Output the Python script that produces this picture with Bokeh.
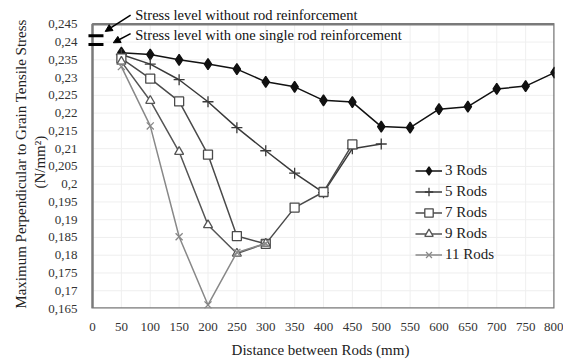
from bokeh.plotting import figure
from bokeh.models import (Range1d, FixedTicker, Legend, Label, Arrow, NormalHead)
from bokeh.embed import file_html
from bokeh.resources import INLINE

# ---- data ----
x3 = [50, 100, 150, 200, 250, 300, 350, 400, 450, 500, 550, 600, 650, 700, 750, 800]
y3 = [0.2370, 0.2365, 0.2350, 0.2338, 0.2324, 0.2288, 0.2274, 0.2236, 0.2231, 0.2162,
      0.2159, 0.2211, 0.2218, 0.2268, 0.2276, 0.2314]
x5 = [50, 100, 150, 200, 250, 300, 350, 400, 450, 500]
y5 = [0.2365, 0.2338, 0.2294, 0.2232, 0.2159, 0.2094, 0.2031, 0.1976, 0.2100, 0.2113]
x7 = [50, 100, 150, 200, 250, 300, 350, 400, 450]
y7 = [0.2354, 0.2297, 0.2233, 0.2083, 0.1854, 0.1832, 0.1934, 0.1978, 0.2112]
x9 = [50, 100, 150, 200, 250, 300]
y9 = [0.2345, 0.2235, 0.2091, 0.1885, 0.1805, 0.1833]
x11 = [50, 100, 150, 200, 250, 300]
y11 = [0.2331, 0.2164, 0.1852, 0.1660, 0.1808, 0.1833]

series_names = ["3 Rods", "5 Rods", "7 Rods", "9 Rods", "11 Rods"]
x_ticks = list(range(0, 801, 50))
y_ticks = [0.165, 0.17, 0.175, 0.18, 0.185, 0.19, 0.195, 0.2, 0.205, 0.21, 0.215,
           0.22, 0.225, 0.23, 0.235, 0.24, 0.245]
y_tick_labels = ["0,165", "0,17", "0,175", "0,18", "0,185", "0,19", "0,195", "0,2", "0,205",
                 "0,21", "0,215", "0,22", "0,225", "0,23", "0,235", "0,24", "0,245"]
ref_levels = [0.2418, 0.2393]
ref_texts = ["Stress level without rod reinforcement",
             "Stress level with one single rod reinforcement"]

# axis box limits
X_MIN, X_MAX = 0, 800
Y_MIN, Y_MAX = 0.165, 0.245

FONT = "Liberation Serif"

# the frame is a little larger than the drawn axis box, so that the
# annotations above / left of the box are not clipped
p = figure(width=563, height=360, output_backend="svg", toolbar_location=None,
           x_range=Range1d(-10.39, X_MAX), y_range=Range1d(Y_MIN, 0.250575),
           min_border_left=86, min_border_right=9, min_border_top=4, min_border_bottom=49)
p.background_fill_color = "white"
p.border_fill_color = "white"
p.outline_line_color = None
p.xgrid.visible = False
p.ygrid.visible = False

p.xaxis.ticker = FixedTicker(ticks=x_ticks)
p.yaxis.ticker = FixedTicker(ticks=y_ticks)
p.yaxis.major_label_overrides = {t: l for t, l in zip(y_ticks, y_tick_labels)}
for ax in (p.xaxis[0], p.yaxis[0]):
    ax.axis_line_color = None
    ax.major_tick_line_color = None
    ax.minor_tick_line_color = None
    ax.major_label_text_font = FONT
    ax.major_label_text_font_size = "13px"
    ax.major_label_text_color = "#333333"
    ax.axis_label_text_font = FONT
    ax.axis_label_text_font_style = "normal"
    ax.axis_label_text_color = "#222222"
    ax.axis_label_text_font_size = "15px"
p.yaxis.major_label_standoff = 3
p.xaxis.major_label_standoff = 8
p.xaxis.axis_label = "Distance between Rods (mm)"
p.xaxis.axis_label_standoff = 8
p.yaxis.axis_label = ("Maximum Perpendicular to Grain Tensile Stress" + "\u00a0" * 4 +
                      "\n(N/mm\u00b2)" + "\u00a0" * 3)
p.yaxis.axis_label_standoff = -3

# faint grid within the axis box
p.segment(x0=x_ticks, y0=[Y_MIN] * len(x_ticks), x1=x_ticks, y1=[Y_MAX] * len(x_ticks),
          line_color="#efefef", line_width=1, level="underlay")
p.segment(x0=[X_MIN] * len(y_ticks), y0=y_ticks, x1=[X_MAX] * len(y_ticks), y1=y_ticks,
          line_color="#efefef", line_width=1, level="underlay")
# axis box
p.quad(left=[X_MIN], right=[X_MAX], bottom=[Y_MIN], top=[Y_MAX], fill_color=None,
       line_color="#7a7a7a", line_width=2.5)

# reference stress levels (short black marks at the y axis)
p.segment(x0=[-7] * len(ref_levels), y0=ref_levels, x1=[19] * len(ref_levels), y1=ref_levels,
          line_color="black", line_width=3)

p.add_layout(Label(x=74, y=0.2475, text=ref_texts[0], text_font=FONT,
                   text_font_size="14.5px", text_color="#111111", text_baseline="middle"))
p.add_layout(Label(x=74, y=0.2419, text=ref_texts[1], text_font=FONT,
                   text_font_size="14.5px", text_color="#111111", text_baseline="middle"))
p.add_layout(Arrow(x_start=66, y_start=0.2476, x_end=22, y_end=0.2430,
                   line_color="black", line_width=1.5,
                   end=NormalHead(size=7, fill_color="black", line_color="black")))
p.add_layout(Arrow(x_start=66, y_start=0.2424, x_end=36, y_end=0.2398,
                   line_color="black", line_width=1.5,
                   end=NormalHead(size=7, fill_color="black", line_color="black")))

cols = ["#111111", "#3a3a3a", "#4a4a4a", "#555555", "#888888"]
xs = [x3, x5, x7, x9, x11]
ys = [y3, y5, y7, y9, y11]
markers = ["diamond", "cross", "square", "triangle", "x"]
sizes = [11, 11, 9, 9, 10]
fills = [cols[0], None, "white", "white", None]

items = []
for name, xx, yy, c, m, s, f in zip(series_names, xs, ys, cols, markers, sizes, fills):
    r1 = p.line(xx, yy, line_color=c, line_width=1.5)
    r2 = p.scatter(xx, yy, marker=m, size=s, line_color=c, line_width=1.3,
                   fill_color=f if f else c, fill_alpha=1.0 if f else 0.0)
    items.append((name, [r1, r2]))

legend = Legend(items=items, location=(329, 43), border_line_color=None,
                background_fill_alpha=0.0, padding=0, margin=0, spacing=0,
                label_height=21, glyph_height=21, glyph_width=27,
                label_text_font=FONT, label_text_font_size="15px",
                label_text_color="#222222", label_standoff=3)
p.add_layout(legend, "center")

open("out.html", "w").write(file_html(p, INLINE))
